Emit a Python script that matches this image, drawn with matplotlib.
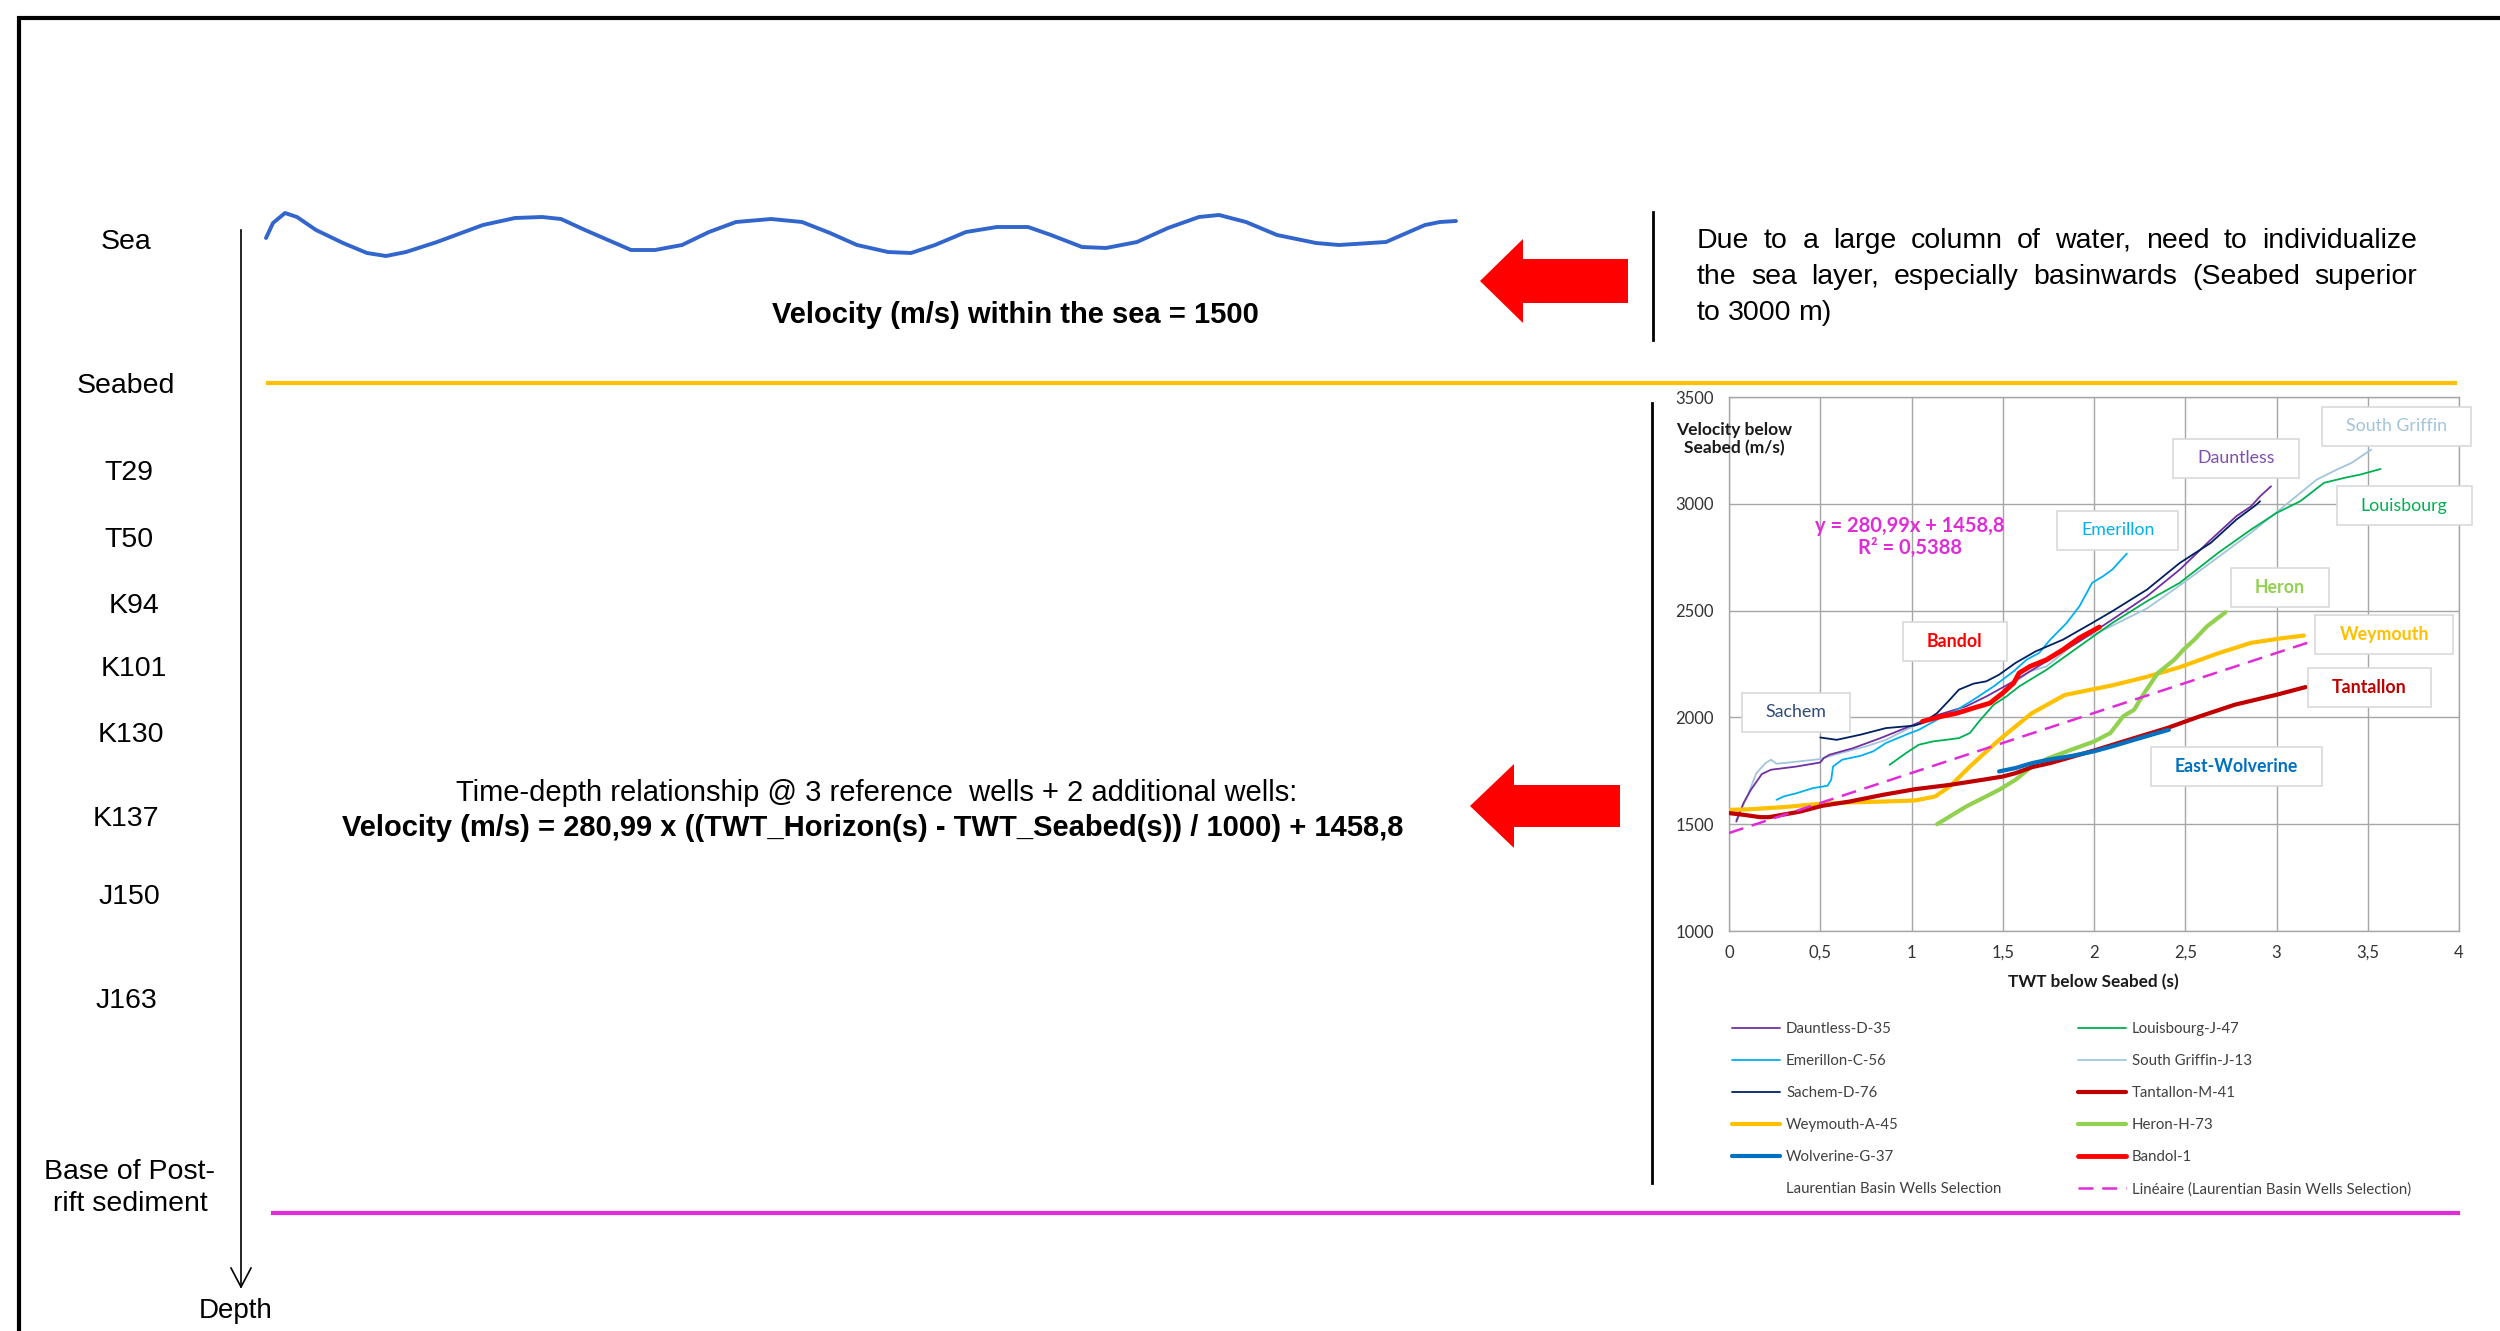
"""Time-depth conversion sketch with the Laurentian Basin velocity inset."""

import matplotlib
matplotlib.use("Agg")  # no display in the sandbox
import matplotlib.pyplot as plt
from matplotlib.patches import Polygon, Rectangle
from matplotlib.transforms import IdentityTransform

plt.rcParams["font.family"] = ["Liberation Sans", "DejaVu Sans"]
INSET_FONT = ["Lato", "DejaVu Sans"]

W, H = 2500, 1331

# ---- schematic: horizons on the depth axis ----
horizon_names = ["Sea", "Seabed", "T29", "T50", "K94", "K101", "K130",
                 "K137", "J150", "J163", "Base of Post-\nrift sediment"]
horizon_label_x = [126, 126, 129, 129, 134, 134, 131, 126, 129, 126, 130]
horizon_label_y = [242, 386, 473, 540, 606, 669, 735, 819, 897, 1001, 1188]

# hand-drawn sea surface (figure pixels)
wave_x = [266, 273, 285, 297, 316, 343, 367, 386, 406, 437, 483, 515, 542, 561, 585, 608,
          631, 655, 682, 709, 736, 771, 802, 830, 857, 888, 911, 935, 966, 997, 1028, 1051,
          1082, 1106, 1137, 1168, 1199, 1219, 1246, 1277, 1316, 1339, 1386, 1402, 1425,
          1440, 1456]
wave_y = [238, 223, 213, 217, 230, 243, 253, 256, 252, 242, 225, 218, 217, 219, 230, 240,
          250, 250, 245, 232, 222, 219, 222, 233, 245, 252, 253, 245, 232, 227, 227, 235,
          247, 248, 242, 228, 217, 215, 222, 235, 243, 245, 242, 235, 225, 222, 221]

# ---- inset: velocity below seabed vs TWT below seabed ----
dauntless_x = [0.04, 0.08, 0.12, 0.18, 0.23, 0.37, 0.50, 0.52, 0.55, 0.68, 0.83, 0.99, 1.12,
               1.30, 1.41, 1.56, 1.74, 1.92, 2.10, 2.29, 2.47, 2.64, 2.78, 2.86, 2.91, 2.97]
dauntless_y = [1512, 1600, 1661, 1735, 1755, 1770, 1789, 1810, 1825, 1856, 1903, 1958, 2005,
               2052, 2098, 2169, 2263, 2356, 2458, 2567, 2692, 2832, 2942, 2988, 3035, 3082]

emerillon_x = [0.26, 0.30, 0.37, 0.46, 0.54, 0.56, 0.57, 0.62, 0.72, 0.79, 0.86, 0.97, 1.04, 1.14,
               1.25, 1.34, 1.45, 1.56, 1.63, 1.70, 1.76, 1.85, 1.92, 1.99, 2.05, 2.10, 2.18]
emerillon_y = [1614, 1630, 1645, 1669, 1680, 1708, 1770, 1802, 1820, 1841, 1880, 1919, 1942, 1989,
               2036, 2083, 2145, 2216, 2270, 2302, 2364, 2442, 2520, 2630, 2661, 2692, 2767]

sachem_x = [0.50, 0.59, 0.72, 0.86, 1.01, 1.06, 1.14, 1.21, 1.26, 1.34, 1.41, 1.48,
            1.57, 1.68, 1.83, 1.99, 2.10, 2.29, 2.47, 2.64, 2.78, 2.89, 2.91]
sachem_y = [1906, 1895, 1919, 1950, 1961, 1973, 2020, 2083, 2130, 2158, 2169, 2200,
            2255, 2309, 2364, 2442, 2497, 2598, 2723, 2817, 2926, 2996, 3012]

weymouth_x = [0.0, 0.11, 0.30, 0.48, 0.66, 0.84, 1.02, 1.13, 1.21, 1.32, 1.48, 1.66, 1.84,
              2.10, 2.29, 2.47, 2.68, 2.86, 3.04, 3.15]
weymouth_y = [1567, 1570, 1580, 1594, 1602, 1606, 1611, 1630, 1677, 1770, 1895, 2020, 2105,
              2150, 2190, 2235, 2300, 2349, 2372, 2383]

wolverine_x = [1.48, 1.57, 1.66, 1.75, 1.88, 2.00, 2.11, 2.22, 2.32, 2.41]
wolverine_y = [1747, 1763, 1786, 1802, 1820, 1841, 1867, 1895, 1920, 1942]

louisbourg_x = [0.88, 0.97, 1.04, 1.12, 1.19, 1.26, 1.32, 1.37, 1.45, 1.52, 1.59, 1.74, 1.92,
                2.10, 2.29, 2.47, 2.68, 2.86, 3.00, 3.13, 3.26, 3.37, 3.46, 3.57]
louisbourg_y = [1778, 1833, 1872, 1888, 1895, 1903, 1927, 1981, 2059, 2098, 2145, 2223, 2333,
                2442, 2544, 2630, 2770, 2879, 2957, 3012, 3098, 3121, 3137, 3163]

griffin_x = [0.04, 0.10, 0.15, 0.20, 0.23, 0.26, 0.33, 0.50, 0.61, 0.75, 0.86, 0.97, 1.04,
             1.15, 1.25, 1.34, 1.41, 1.48, 1.56, 1.65, 1.74, 1.92, 2.03, 2.29, 2.49, 2.68,
             2.86, 3.04, 3.22, 3.33, 3.41, 3.52]
griffin_y = [1520, 1630, 1739, 1786, 1802, 1783, 1789, 1805, 1833, 1864, 1895, 1942, 1970,
             2005, 2028, 2044, 2052, 2098, 2161, 2216, 2239, 2364, 2400, 2510, 2630, 2750,
             2864, 2988, 3113, 3160, 3191, 3254]

tantallon_x = [0.0, 0.08, 0.17, 0.22, 0.39, 0.51, 0.66, 0.84, 1.02, 1.21, 1.39, 1.50, 1.57,
               1.66, 1.76, 2.00, 2.22, 2.40, 2.58, 2.77, 3.00, 3.16]
tantallon_y = [1552, 1544, 1533, 1533, 1559, 1586, 1606, 1637, 1664, 1684, 1708, 1723, 1739,
               1767, 1786, 1845, 1903, 1950, 2005, 2059, 2106, 2142]

heron_x = [1.14, 1.30, 1.48, 1.57, 1.66, 1.75, 1.88, 2.00, 2.09, 2.16, 2.22, 2.27, 2.35,
           2.44, 2.49, 2.55, 2.62, 2.68, 2.72]
heron_y = [1500, 1583, 1661, 1708, 1770, 1809, 1850, 1887, 1927, 2005, 2036, 2107, 2208,
           2270, 2317, 2364, 2427, 2466, 2492]

bandol_x = [1.06, 1.15, 1.25, 1.34, 1.43, 1.50, 1.56, 1.59, 1.65, 1.74, 1.83, 1.92, 2.03]
bandol_y = [1981, 2002, 2020, 2044, 2067, 2114, 2161, 2208, 2239, 2270, 2317, 2372, 2423]

fit_x = [0.0, 3.17]
fit_y = [1458.8, 2349.5]

x_ticks = [0, 0.5, 1, 1.5, 2, 2.5, 3, 3.5, 4]
x_tick_labels = ["0", "0,5", "1", "1,5", "2", "2,5", "3", "3,5", "4"]
y_ticks = [1000, 1500, 2000, 2500, 3000, 3500]

tag_names = ["South Griffin", "Dauntless", "Louisbourg", "Emerillon", "Heron",
             "Weymouth", "Tantallon", "East-Wolverine", "Bandol", "Sachem"]
tag_x = [3.655, 2.778, 3.70, 2.13, 3.02, 3.59, 3.51, 2.78, 1.238, 0.367]
tag_y = [3364, 3214, 2990, 2877, 2610, 2390, 2138, 1772, 2353, 2025]
tag_colors = ["#A2C4DC", "#7F4FB0", "#00B050", "#00B0F0", "#92D050",
              "#FFC000", "#C00000", "#0070C0", "#FF0000", "#2F4A7A"]
tag_bold = [False, False, False, False, True, True, True, True, True, False]

MAGENTA = "#E02CD8"

fig = plt.figure(figsize=(W / 100, H / 100), dpi=100)
bg = fig.add_axes([0, 0, 1, 1])
bg.set_xlim(0, W)
bg.set_ylim(H, 0)
bg.axis("off")

# outer frame (runs off the right and bottom of the picture)
bg.plot([19, 19, W + 10], [H + 10, 18, 18], color="black", lw=3, solid_joinstyle="miter")

# depth axis with open arrow head
bg.plot([241, 241], [230, 1287], color="black", lw=1.2)
bg.plot([231, 241, 251], [1268, 1287, 1268], color="black", lw=1.2)
bg.text(236, 1311, "Depth", ha="center", va="center", fontsize=20)

for name, lx, ly in zip(horizon_names, horizon_label_x, horizon_label_y):
    bg.text(lx, ly, name, ha="center", va="center", fontsize=20.5,
            multialignment="center", linespacing=1.3)

bg.plot(wave_x, wave_y, color="#3366CC", lw=2.8, solid_joinstyle="round",
        solid_capstyle="round")
bg.plot([268, 2455], [383, 383], color="#FFC000", lw=3)
bg.plot([273, 2458], [1213, 1213], color=MAGENTA, lw=3)

# separators between schematic and comments
bg.plot([1653, 1653], [212, 340], color="black", lw=2)
bg.plot([1652, 1652], [403, 1183], color="black", lw=2)

# red block arrows
for tip_x, tip_y, base_x, end_x, head_half, shaft_half in [(1480, 281, 1523, 1628, 42, 22),
                                                           (1470, 806, 1514, 1620, 42, 21)]:
    pts = [(tip_x, tip_y), (base_x, tip_y - head_half), (base_x, tip_y - shaft_half),
           (end_x, tip_y - shaft_half), (end_x, tip_y + shaft_half),
           (base_x, tip_y + shaft_half), (base_x, tip_y + head_half)]
    bg.add_patch(Polygon(pts, closed=True, facecolor="#FF0000", edgecolor="none"))

bg.text(1015, 315, "Velocity (m/s) within the sea = 1500", ha="center", va="center",
        fontsize=21, fontweight="bold")
bg.text(877, 793, "Time-depth relationship @ 3 reference  wells + 2 additional wells:",
        ha="center", va="center", fontsize=21)
bg.text(873, 828,
        "Velocity (m/s) = 280,99 x ((TWT_Horizon(s) - TWT_Seabed(s)) / 1000) + 1458,8",
        ha="center", va="center", fontsize=21, fontweight="bold")

renderer = fig.canvas.get_renderer()


def justify_line(words, x0, x1, y, justify=True):
    """Lay out words on one line, spread across x0..x1 like justified text."""
    texts = [bg.text(0, y, w, ha="left", va="center", fontsize=20.5) for w in words]
    widths = [t.get_window_extent(renderer).width for t in texts]
    gap = (x1 - x0 - sum(widths)) / (len(words) - 1) if justify else 7
    x = x0
    for t, w in zip(texts, widths):
        t.set_x(x)
        x += w + gap


justify_line("Due to a large column of water, need to individualize".split(), 1697, 2417, 241)
justify_line("the sea layer, especially basinwards (Seabed superior".split(), 1697, 2417, 277)
justify_line("to 3000 m)".split(), 1697, 2417, 313, justify=False)

# ---- inset chart ----
ax = fig.add_axes([1729 / W, 1 - 931 / H, 730 / W, 534 / H])
ax.set_zorder(2)

wells = [
    ("Dauntless-D-35", dauntless_x, dauntless_y, "#7030A0", 1.3, 3),
    ("Emerillon-C-56", emerillon_x, emerillon_y, "#00B0F0", 1.3, 3),
    ("Sachem-D-76", sachem_x, sachem_y, "#002060", 1.3, 3.2),
    ("Weymouth-A-45", weymouth_x, weymouth_y, "#FFC000", 3.0, 3),
    ("Wolverine-G-37", wolverine_x, wolverine_y, "#0070C0", 3.0, 3.6),
    ("Louisbourg-J-47", louisbourg_x, louisbourg_y, "#00B050", 1.3, 3),
    ("South Griffin-J-13", griffin_x, griffin_y, "#A2C4DC", 1.3, 2.9),
    ("Tantallon-M-41", tantallon_x, tantallon_y, "#C00000", 3.0, 3.4),
    ("Heron-H-73", heron_x, heron_y, "#92D050", 3.0, 3.3),
    ("Bandol-1", bandol_x, bandol_y, "#FF0000", 3.5, 3.7),
]
handles = {}
for label, xs, ys, color, lw, z in wells:
    (line,) = ax.plot(xs, ys, color=color, lw=lw, zorder=z, label=label,
                      solid_joinstyle="round", solid_capstyle="round")
    handles[label] = line
(sel,) = ax.plot([], [], color="none", label="Laurentian Basin Wells Selection")
(fit,) = ax.plot(fit_x, fit_y, color=MAGENTA, lw=1.8, ls=(0, (6, 3.5)), zorder=3.8,
                 label="Linéaire (Laurentian Basin Wells Selection)")

ax.set_xlim(0, 4)
ax.set_ylim(1000, 3500)
ax.set_xticks(x_ticks)
ax.set_xticklabels(x_tick_labels)
ax.set_yticks(y_ticks)
ax.grid(True, color="#A6A6A6", lw=1.0)
ax.set_axisbelow(True)
for sp in ax.spines.values():
    sp.set_color("#A6A6A6")
    sp.set_linewidth(1.0)
ax.tick_params(length=0, labelsize=12, labelcolor="#333333")
ax.tick_params(axis="y", pad=11)
ax.tick_params(axis="x", pad=10)
for lab in ax.get_xticklabels() + ax.get_yticklabels():
    lab.set_family(INSET_FONT)

ax.set_xlabel("TWT below Seabed (s)", fontsize=12.3, fontweight="bold",
              family=INSET_FONT, color="#1A1A1A")
ax.xaxis.set_label_coords(0.4986, -0.08)
ax.text(0.0068, 0.921, "Velocity below\nSeabed (m/s)", transform=ax.transAxes,
        ha="center", va="center", fontsize=12.5, fontweight="bold", family=INSET_FONT,
        color="#1A1A1A", linespacing=1.2, zorder=6)

ax.text(0.99, 2845, "y = 280,99x + 1458,8\nR² = 0,5388", ha="center", va="center",
        fontsize=14.5, fontweight="bold", color=MAGENTA, family=INSET_FONT,
        linespacing=1.1, zorder=6)

tag_texts = []
for name, tx, ty, color, bold in zip(tag_names, tag_x, tag_y, tag_colors, tag_bold):
    t = ax.text(tx, ty, name, ha="center", va="center", fontsize=12.8, color=color,
                fontweight="bold" if bold else "normal", family=INSET_FONT,
                zorder=7, clip_on=False)
    tag_texts.append(t)

# legend, one column each side
leg_kw = dict(loc="upper left", frameon=False, borderpad=0, borderaxespad=0,
              handlelength=3.2, handletextpad=0.4, labelspacing=1.2,
              prop={"family": INSET_FONT, "size": 10.8}, labelcolor="#404040")
left_col = [handles["Dauntless-D-35"], handles["Emerillon-C-56"], handles["Sachem-D-76"],
            handles["Weymouth-A-45"], handles["Wolverine-G-37"], sel]
right_col = [handles["Louisbourg-J-47"], handles["South Griffin-J-13"],
             handles["Tantallon-M-41"], handles["Heron-H-73"], handles["Bandol-1"], fit]
fig.legend(left_col, [h.get_label() for h in left_col],
           bbox_to_anchor=(1732 / W, 1 - 1022 / H), **leg_kw)
fig.legend(right_col, [h.get_label() for h in right_col],
           bbox_to_anchor=(2078 / W, 1 - 1022 / H), **leg_kw)

# white label boxes sized from the rendered text
fig.canvas.draw()
renderer = fig.canvas.get_renderer()
for t in tag_texts:
    bb = t.get_window_extent(renderer)
    box_h = 39
    ax.add_patch(Rectangle((bb.x0 - 24, (bb.y0 + bb.y1) / 2 - box_h / 2), bb.width + 48, box_h,
                           transform=IdentityTransform(), facecolor="white",
                           edgecolor="#D9D9D9", lw=1.2, zorder=6.5, clip_on=False))

fig.savefig("out.png", dpi=100)
